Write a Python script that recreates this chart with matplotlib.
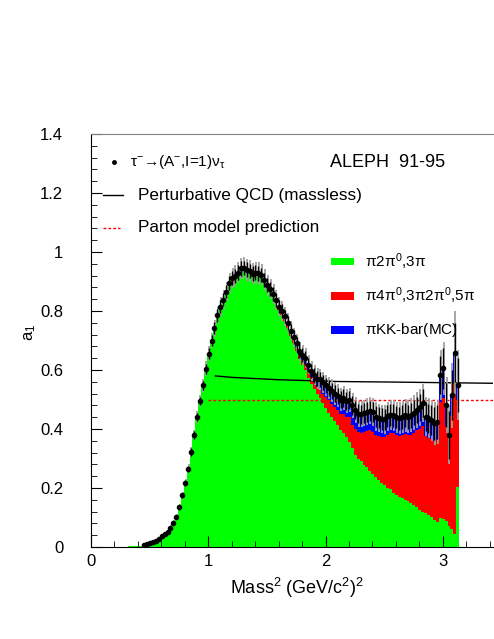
import numpy as np
import matplotlib
matplotlib.use("Agg")
import matplotlib.pyplot as plt
from matplotlib.ticker import MultipleLocator

plt.rcParams['font.family'] = ['Liberation Sans', 'DejaVu Sans']
plt.rcParams['mathtext.fontset'] = 'custom'
plt.rcParams['mathtext.rm'] = 'Liberation Sans'
plt.rcParams['mathtext.it'] = 'Liberation Sans'
plt.rcParams['mathtext.bf'] = 'Liberation Sans:bold'

# histogram binning (GeV^2)
bin_lo = 0.29
bin_w = 0.025
n_bins = 114
first_data_bin = 6

# stacked MC contributions, one value per bin
green_3pi = [0.001, 0.002, 0.002, 0.003, 0.004, 0.005,
             0.007, 0.011, 0.015, 0.018, 0.022, 0.028, 0.036, 0.043, 0.052, 0.065,
             0.082, 0.103, 0.135, 0.175, 0.218, 0.265, 0.322, 0.380, 0.440, 0.495,
             0.548, 0.605, 0.655, 0.700, 0.742, 0.785, 0.815, 0.838, 0.866, 0.895,
             0.912, 0.920, 0.930, 0.945, 0.946, 0.940, 0.936, 0.927, 0.930, 0.928,
             0.922, 0.905, 0.887,
             0.870, 0.850, 0.826, 0.803, 0.786, 0.766, 0.742, 0.714, 0.690, 0.665,
             0.636, 0.617, 0.600, 0.574, 0.553, 0.535, 0.518, 0.505, 0.488, 0.470,
             0.455, 0.442, 0.428, 0.412, 0.398, 0.388, 0.372, 0.356, 0.335, 0.312,
             0.300, 0.290, 0.278, 0.270, 0.258, 0.248, 0.238, 0.226, 0.218, 0.210,
             0.200, 0.195, 0.184, 0.176, 0.170, 0.165, 0.160, 0.155, 0.150, 0.142,
             0.135, 0.127, 0.120, 0.116, 0.108, 0.102, 0.090, 0.085, 0.100, 0.094,
             0.088, 0.070, 0.060, 0.045, 0.205]

red_5pi = [0.0] * 49 + [
    0.003, 0.004, 0.005, 0.006, 0.007, 0.008, 0.009, 0.009, 0.011, 0.012,
    0.014, 0.016, 0.020, 0.022, 0.022, 0.023, 0.025, 0.030, 0.032, 0.038,
    0.043, 0.043, 0.046, 0.051, 0.052, 0.064, 0.068, 0.084, 0.080, 0.088,
    0.090, 0.097, 0.112, 0.122, 0.137, 0.142, 0.142, 0.150, 0.155, 0.162,
    0.180, 0.191, 0.202, 0.204, 0.205, 0.215, 0.222, 0.223, 0.230, 0.243,
    0.260, 0.273, 0.290, 0.260, 0.262, 0.264, 0.268, 0.277, 0.390, 0.411,
    0.322, 0.250, 0.385, 0.515, 0.295]

blue_kk = [0.0] * 49 + [
    0.002, 0.004, 0.005, 0.006, 0.007, 0.008, 0.009, 0.010, 0.011, 0.013,
    0.014, 0.018, 0.020, 0.022, 0.023, 0.024, 0.028, 0.033, 0.038, 0.040,
    0.042, 0.045, 0.046, 0.049, 0.050, 0.053, 0.054, 0.058, 0.065, 0.065,
    0.062, 0.063, 0.064, 0.066, 0.067, 0.067, 0.062, 0.062, 0.061, 0.061,
    0.063, 0.061, 0.060, 0.060, 0.061, 0.060, 0.065, 0.064, 0.067, 0.070,
    0.069, 0.073, 0.077, 0.066, 0.066, 0.064, 0.061, 0.063, 0.093, 0.101,
    0.071, 0.060, 0.070, 0.099, 0.049]

# measured a1 spectral function
a1_data = [0.007, 0.011, 0.015, 0.018, 0.022, 0.028, 0.036, 0.043, 0.052, 0.065,
           0.082, 0.103, 0.135, 0.175, 0.218, 0.265, 0.322, 0.380, 0.440, 0.495,
           0.548, 0.605, 0.655, 0.700, 0.742, 0.785, 0.815, 0.838, 0.866, 0.895,
           0.912, 0.920, 0.930, 0.945, 0.946, 0.940, 0.936, 0.927, 0.930, 0.928,
           0.922, 0.905, 0.887, 0.875, 0.858, 0.836, 0.815, 0.800, 0.782, 0.760,
           0.733, 0.712, 0.690, 0.664, 0.651, 0.640, 0.618, 0.598, 0.582, 0.571,
           0.568, 0.558, 0.548, 0.540, 0.530, 0.520, 0.512, 0.500, 0.505, 0.494,
           0.498, 0.480, 0.465, 0.452, 0.450, 0.454, 0.458, 0.462, 0.457, 0.442,
           0.438, 0.434, 0.433, 0.443, 0.447, 0.446, 0.440, 0.436, 0.440, 0.447,
           0.442, 0.447, 0.455, 0.464, 0.473, 0.487, 0.442, 0.436, 0.430, 0.419,
           0.425, 0.583, 0.606, 0.481, 0.380, 0.515, 0.659, 0.549]

err_stat = [0.003, 0.003, 0.003, 0.003, 0.004, 0.004, 0.004, 0.005, 0.005, 0.006,
            0.006, 0.007, 0.008, 0.009, 0.010, 0.011, 0.012, 0.013, 0.014, 0.015,
            0.016, 0.017, 0.018, 0.019, 0.020, 0.021, 0.022, 0.022, 0.023, 0.023,
            0.024, 0.024, 0.025, 0.025, 0.025, 0.025, 0.025, 0.025, 0.025, 0.025,
            0.025, 0.025, 0.024, 0.024, 0.024, 0.024, 0.023, 0.023, 0.023, 0.023,
            0.023, 0.023, 0.023, 0.023, 0.024, 0.024, 0.024, 0.024, 0.025, 0.025,
            0.025, 0.026, 0.026, 0.027, 0.027, 0.028, 0.028, 0.029, 0.029, 0.030,
            0.030, 0.031, 0.031, 0.032, 0.032, 0.033, 0.033, 0.034, 0.034, 0.035,
            0.035, 0.036, 0.036, 0.037, 0.037, 0.038, 0.038, 0.039, 0.040, 0.040,
            0.041, 0.042, 0.043, 0.044, 0.045, 0.047, 0.048, 0.050, 0.052, 0.055,
            0.058, 0.065, 0.070, 0.075, 0.080, 0.085, 0.100, 0.090]

err_tot = [0.004, 0.004, 0.004, 0.005, 0.005, 0.006, 0.006, 0.007, 0.007, 0.008,
           0.009, 0.010, 0.011, 0.012, 0.014, 0.015, 0.017, 0.018, 0.020, 0.021,
           0.023, 0.024, 0.026, 0.027, 0.029, 0.030, 0.031, 0.032, 0.033, 0.034,
           0.035, 0.035, 0.036, 0.036, 0.037, 0.037, 0.037, 0.037, 0.037, 0.037,
           0.036, 0.036, 0.035, 0.035, 0.034, 0.034, 0.033, 0.033, 0.033, 0.032,
           0.032, 0.032, 0.032, 0.032, 0.033, 0.033, 0.033, 0.034, 0.034, 0.035,
           0.035, 0.036, 0.036, 0.037, 0.038, 0.038, 0.039, 0.040, 0.040, 0.041,
           0.042, 0.042, 0.043, 0.044, 0.044, 0.045, 0.046, 0.046, 0.047, 0.048,
           0.048, 0.049, 0.050, 0.050, 0.051, 0.052, 0.053, 0.054, 0.055, 0.056,
           0.057, 0.058, 0.059, 0.060, 0.062, 0.064, 0.066, 0.068, 0.070, 0.072,
           0.075, 0.085, 0.090, 0.095, 0.100, 0.110, 0.140, 0.120]

# theory curves
qcd_s = [1.06, 1.2, 1.6, 2.1, 2.6, 3.0, 3.43]
qcd_a = [0.580, 0.575, 0.567, 0.561, 0.559, 0.557, 0.555]
parton_s = [1.0, 3.43]
parton_a = [0.5, 0.5]

y_ticks = [0, 0.2, 0.4, 0.6, 0.8, 1.0, 1.2, 1.4]
y_ticklabels = ['0', '0.2', '0.4', '0.6', '0.8', '1', '1.2', '1.4']
x_ticks = [0, 1, 2, 3]
x_ticklabels = ['0', '1', '2', '3']

centers = bin_lo + bin_w * (np.arange(n_bins) + 0.5)
green = np.array(green_3pi)
red = np.array(red_5pi)
blue = np.array(blue_kk)

fig = plt.figure(figsize=(4.94, 6.39), dpi=100)
ax = fig.add_axes([91 / 494, 1 - 547 / 639, 402.3 / 494, 413 / 639])

ax.bar(centers, green, width=bin_w, color='#00ff00', linewidth=0)
ax.bar(centers, red, width=bin_w, bottom=green, color='#ff0000', linewidth=0)
ax.bar(centers, blue, width=bin_w, bottom=green + red, color='#0000ff', linewidth=0)

ax.plot(qcd_s, qcd_a, color='black', lw=1.0)
ax.plot(parton_s, parton_a, color='red', lw=1.0, ls=(0, (2, 1.5)))

xd = centers[first_data_bin:]
ax.errorbar(xd + 0.004, a1_data, yerr=err_tot, fmt='none', ecolor='#a0a0a0',
            elinewidth=1.3, capsize=0)
ax.errorbar(xd, a1_data, yerr=err_stat, fmt='o', color='black', ms=3.0,
            elinewidth=1.0, capsize=0)

ax.set_xlim(0, 3.43)
ax.set_ylim(0, 1.4)
ax.set_xticks(x_ticks)
ax.set_xticklabels(x_ticklabels)
ax.set_yticks(y_ticks)
ax.set_yticklabels(y_ticklabels)
ax.xaxis.set_minor_locator(MultipleLocator(0.2))
ax.yaxis.set_minor_locator(MultipleLocator(0.04))
ax.tick_params(which='both', direction='in', labelsize=12)
ax.tick_params(which='major', length=8)
ax.tick_params(which='minor', length=4)
ax.tick_params(axis='y', which='major', pad=20)
ax.tick_params(axis='x', which='major', pad=5)
ax.spines['right'].set_visible(False)
ax.spines['top'].set_color('#808080')

# legend, top left
ax.plot([0.196], [1.304], 'o', color='black', ms=2.5)
ax.text(0.333, 1.304, r'$\tau^{-}$→(A$^{-}$,I=1)$\nu_{\tau}$',
        fontsize=11, va='center')
ax.text(2.04, 1.304, 'ALEPH  91-95', fontsize=13, va='center')
ax.plot([0.102, 0.273], [1.193, 1.193], color='black', lw=1.0)
ax.text(0.40, 1.193, 'Perturbative QCD (massless)', fontsize=12.3, va='center')
ax.plot([0.102, 0.25], [1.082, 1.082], color='red', lw=1.0, ls=(0, (2, 1.5)))
ax.text(0.40, 1.082, 'Parton model prediction', fontsize=12.3, va='center')

# legend, channel contributions
leg_y = [0.967, 0.851, 0.736]
leg_c = ['#00ff00', '#ff0000', '#0000ff']
leg_t = [r'$\pi2\pi^{0}$,3$\pi$', r'$\pi4\pi^{0}$,3$\pi2\pi^{0}$,5$\pi$',
         r'$\pi$KK-bar(MC)']
for yy, cc, tt in zip(leg_y, leg_c, leg_t):
    ax.fill_between([2.05, 2.24], yy - 0.0125, yy + 0.0125, color=cc, lw=0)
    ax.text(2.336, yy, tt, fontsize=11, va='center')

fig.text(30 / 494, 1 - 332 / 639, r'a$_1$', fontsize=12, rotation=90,
         ha='center', va='center')
fig.text(297 / 494, 1 - 588 / 639, r'Mass$^2$ (GeV/c$^2$)$^2$', fontsize=13,
         ha='center', va='center')

fig.savefig('out.png', dpi=100)
